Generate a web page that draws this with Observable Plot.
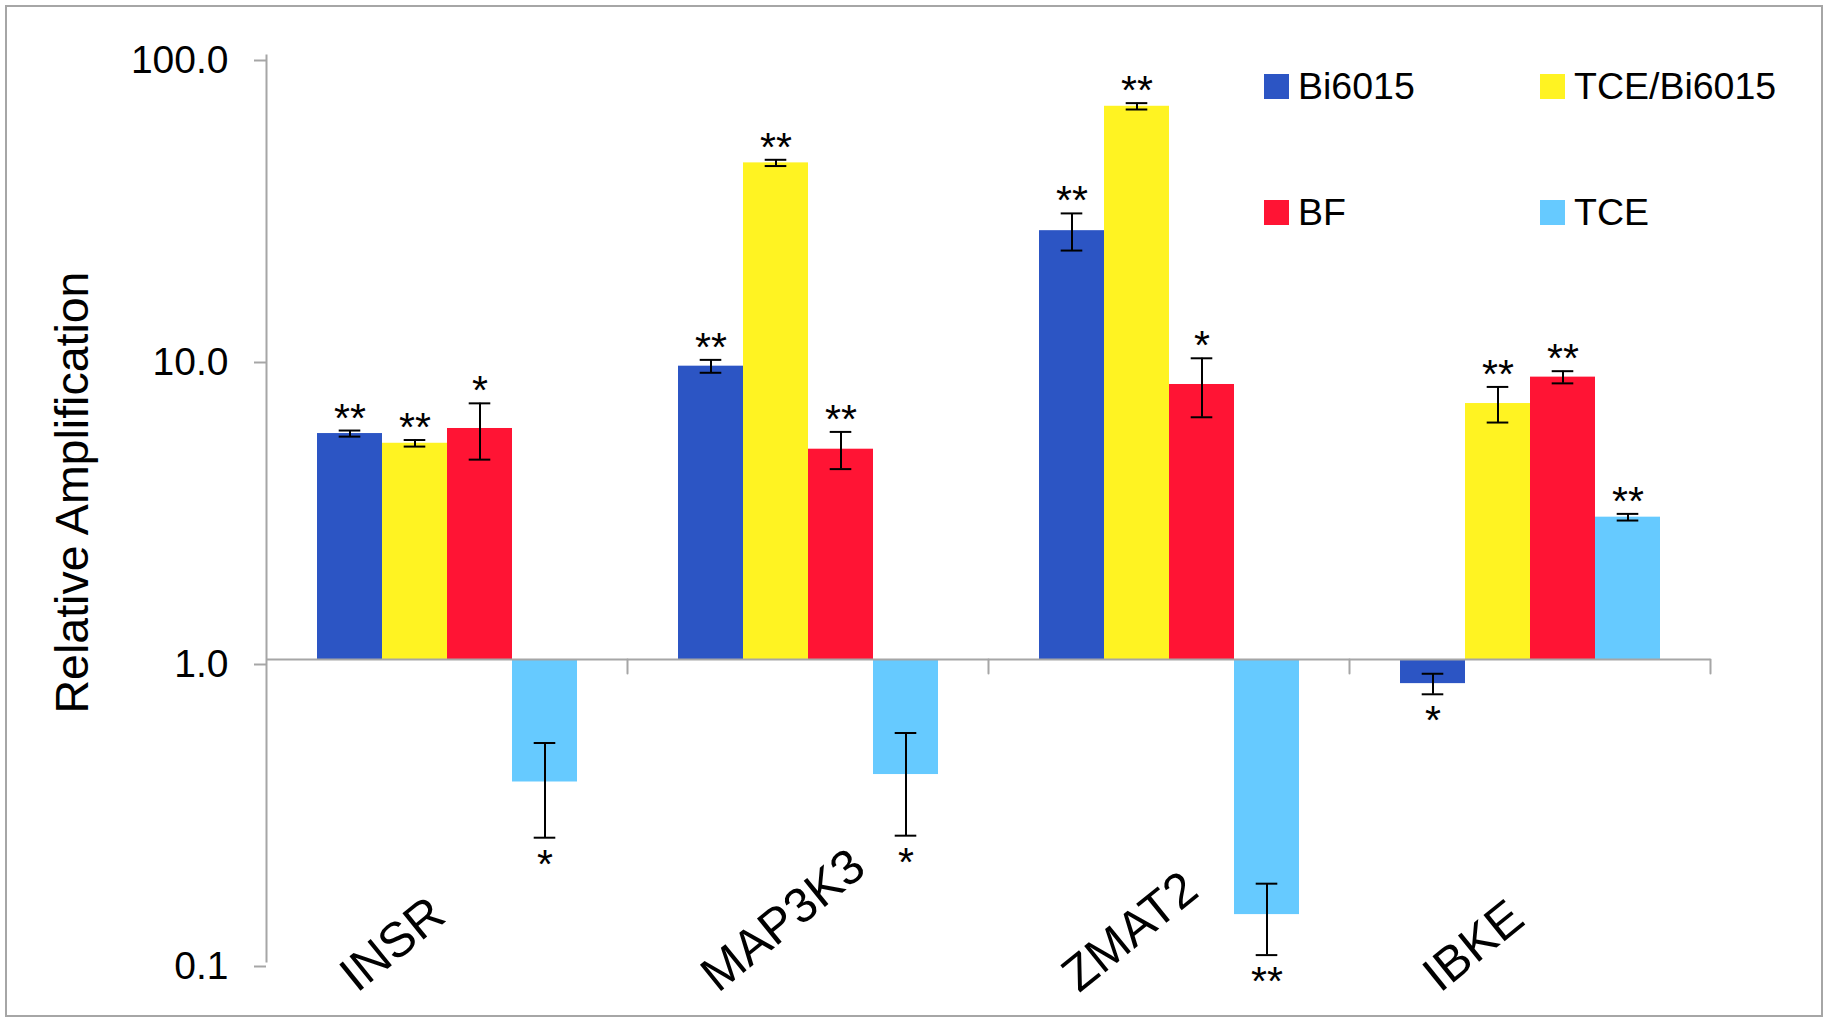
<!DOCTYPE html>
<html><head><meta charset="utf-8">
<script src="https://cdn.jsdelivr.net/npm/d3@7"></script>
<script src="https://cdn.jsdelivr.net/npm/@observablehq/plot@0.6"></script>
<style>
html,body{margin:0;padding:0;background:#fff;}
#wrap{position:relative;width:1829px;height:1025px;font-family:"Liberation Sans",Arial,sans-serif;}
#border{position:absolute;left:5px;top:5px;width:1818px;height:1012px;box-sizing:border-box;border:2px solid #a6a6a6;pointer-events:none;}
#chart{position:absolute;left:0;top:0;}
#legend{position:absolute;left:1264px;top:74px;display:grid;grid-template-columns:276px auto;grid-auto-rows:126px;}
.item{display:flex;align-items:flex-start;height:25px;}
.sw{width:25px;height:25px;margin-right:9px;flex:none;}
.lab{font-size:37.5px;line-height:25px;color:#000;white-space:nowrap;}
</style></head>
<body>
<div id="wrap"><div id="chart"></div><div id="legend"></div><div id="border"></div></div>
<script>
// ---- data ----
const genes = ["INSR", "MAP3K3", "ZMAT2", "IBKE"];
const series = ["Bi6015", "TCE/Bi6015", "BF", "TCE"];
const colors = ["#2c55c4", "#fff322", "#ff1434", "#66caff"];

const valBi6015 = [5.6, 9.36, 26.3, 0.832];
const valTCEBi6015 = [5.2, 44.1, 67.9, 7.04];
const valBF = [5.82, 4.97, 8.14, 8.61];
const valTCE = [0.393, 0.416, 0.143, 2.96];

const sdBi6015 = [0.13, 0.46, 3.7, 0.065];
const sdTCEBi6015 = [0.13, 1.05, 1.65, 0.95];
const sdBF = [1.23, 0.7, 1.8, 0.4];
const sdTCE = [0.136, 0.155, 0.038, 0.075];

const sigBi6015 = ["**", "**", "**", "*"];
const sigTCEBi6015 = ["**", "**", "**", "**"];
const sigBF = ["*", "**", "*", "**"];
const sigTCE = ["*", "*", "**", "**"];

const yTicks = [0.1, 1, 10, 100];
const yTitle = "Relative Amplification";

// ---- table ----
const values = [valBi6015, valTCEBi6015, valBF, valTCE];
const sds = [sdBi6015, sdTCEBi6015, sdBF, sdTCE];
const sigs = [sigBi6015, sigTCEBi6015, sigBF, sigTCE];
const rows = [];
genes.forEach((g, i) => series.forEach((s, j) => rows.push({
  gene: g, series: s, value: values[j][i], sd: sds[j][i], sig: sigs[j][i]
})));

const gray = "#a6a6a6";
const font = "'Liberation Sans', Arial, sans-serif";
const tickShape = {draw(context, l) { context.moveTo(0, 0); context.lineTo(0, -l); }};

const chart = Plot.plot({
  width: 1829,
  height: 1025,
  marginLeft: 266,
  marginRight: 119,
  marginTop: 55,
  marginBottom: 64,
  style: {fontFamily: font, background: "transparent", color: "black", overflow: "visible"},
  fx: {domain: genes, padding: 0, axis: null, label: null},
  x: {domain: series, paddingInner: 0, paddingOuter: 0.756, axis: null, label: null},
  y: {type: "log", domain: [0.1, 100], axis: null, label: null},
  color: {domain: series, range: colors},
  marks: [
    Plot.barY(rows, {fx: "gene", x: "series", y1: () => 1, y2: "value", fill: "series"}),
    Plot.ruleY([1], {stroke: gray, strokeWidth: 2}),
    Plot.vector([1], {y: d => d, frameAnchor: "right", length: 14, rotate: 180, anchor: "start", stroke: gray, strokeWidth: 2, shape: tickShape}),
    Plot.frame({anchor: "left", stroke: gray, strokeWidth: 2, facetAnchor: "left"}),
    Plot.axisY({ticks: yTicks, tickFormat: d3.format(".1f"), tickSize: 12, tickPadding: 26, fontSize: 39, stroke: gray, strokeWidth: 2, fill: "black", label: null, dy: 5}),
    Plot.ruleX(rows, {fx: "gene", x: "series", y1: d => d.value - d.sd, y2: d => d.value + d.sd, stroke: "black", strokeWidth: 2}),
    Plot.tickY(rows, {fx: "gene", x: "series", y: d => d.value + d.sd, stroke: "black", strokeWidth: 2, insetLeft: 21.7, insetRight: 21.7}),
    Plot.tickY(rows, {fx: "gene", x: "series", y: d => d.value - d.sd, stroke: "black", strokeWidth: 2, insetLeft: 21.7, insetRight: 21.7}),
    Plot.text(rows.filter(d => d.value > 1), {fx: "gene", x: "series", y: d => d.value + d.sd, text: "sig", lineAnchor: "bottom", fontSize: 41, dy: 1, fill: "black"}),
    Plot.text(rows.filter(d => d.value < 1), {fx: "gene", x: "series", y: d => d.value - d.sd, text: "sig", lineAnchor: "top", fontSize: 41, dy: 11, fill: "black"}),
    Plot.text(genes, {fx: d => d, text: d => d, frameAnchor: "bottom", rotate: -39, textAnchor: "start", lineAnchor: "bottom", dx: -90, dy: 32, fontSize: 49, fill: "black"}),
    Plot.text([yTitle], {fx: () => genes[0], text: d => d, frameAnchor: "left", rotate: -90, textAnchor: "middle", lineAnchor: "bottom", dx: -179, dy: -16, fontSize: 46.5, fill: "black"})
  ]
});
document.getElementById("chart").appendChild(chart);

// ---- legend (row-major: Bi6015, TCE/Bi6015 / BF, TCE) ----
const legend = d3.select("#legend");
series.forEach((s, j) => {
  const item = legend.append("div").attr("class", "item");
  item.append("div").attr("class", "sw").style("background", colors[j]);
  item.append("div").attr("class", "lab").text(s);
});
</script>
</body></html>
